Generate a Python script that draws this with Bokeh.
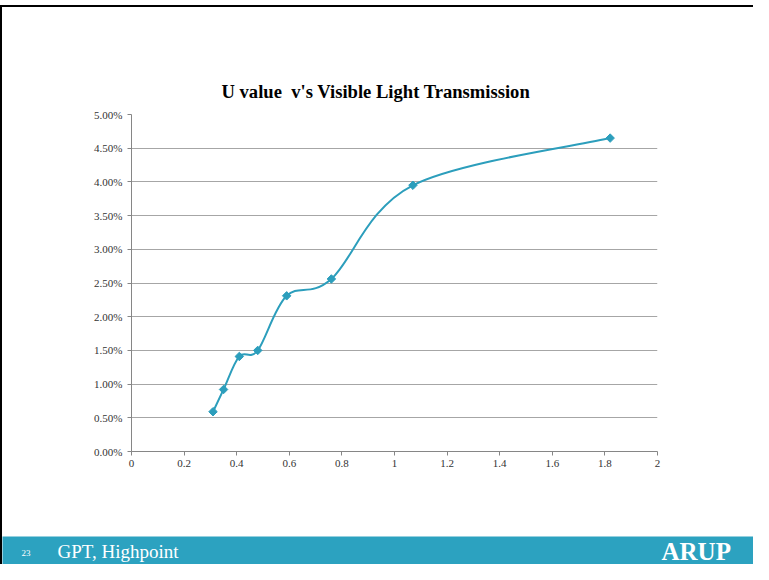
import numpy as np
from bokeh.plotting import figure
from bokeh.layouts import column, row
from bokeh.models import (ColumnDataSource, Range1d, FixedTicker, PrintfTickFormatter,
                          Spacer)
from bokeh.core.properties import value
from bokeh.embed import file_html
from bokeh.resources import INLINE

# ---- data ----
title_text = "U value\u00a0 v's Visible Light Transmission"
u_value = [0.31, 0.35, 0.41, 0.48, 0.59, 0.76, 1.07, 1.82]
vlt_pct = [0.59, 0.92, 1.41, 1.50, 2.31, 2.56, 3.95, 4.65]
x_ticks = [0, 0.2, 0.4, 0.6, 0.8, 1, 1.2, 1.4, 1.6, 1.8, 2]
x_tick_labels = ["0", "0.2", "0.4", "0.6", "0.8", "1", "1.2", "1.4", "1.6", "1.8", "2"]
y_ticks = [0, 0.5, 1, 1.5, 2, 2.5, 3, 3.5, 4, 4.5, 5]
page_number = "23"
footer_text = "GPT, Highpoint"
logo_text = "ARUP"

# ---- styles ----
SERIF = "Liberation Serif"
TEAL = "#2c9ebc"
FOOTER = "#2ca2c0"
GRID = "#a6a6a6"
AXIS = "#868686"
TOTAL_W, TOTAL_H = 753, 564
TOP_GAP = 5
BORDER = 2
INNER_W = TOTAL_W - BORDER
CHART_H = 536 - TOP_GAP - BORDER
FOOT_H = TOTAL_H - TOP_GAP - BORDER - CHART_H

p = figure(width=INNER_W, height=CHART_H, output_backend="svg", toolbar_location=None,
           x_range=Range1d(0, 2), y_range=Range1d(0, 5),
           min_border_left=129, min_border_right=96,
           min_border_top=114 - TOP_GAP - BORDER, min_border_bottom=536 - 451)
p.outline_line_color = None
p.background_fill_color = "white"
p.border_fill_color = "white"

# title
p.title.text = title_text
p.title.text_font = SERIF
p.title.text_font_style = "bold"
p.title.text_font_size = "18.6px"
p.title.text_color = "#000000"
p.title.align = "left"
p.title.offset = 90
p.title.standoff = 25

# axes
p.xaxis.ticker = FixedTicker(ticks=x_ticks)
p.xaxis.major_label_overrides = dict(zip(x_ticks, x_tick_labels))
p.yaxis.ticker = FixedTicker(ticks=y_ticks)
p.yaxis.formatter = PrintfTickFormatter(format="%.2f%%")
for ax in (p.xaxis, p.yaxis):
    ax.axis_line_color = AXIS
    ax.major_tick_line_color = AXIS
    ax.minor_tick_line_color = None
    ax.major_tick_in = 0
    ax.major_tick_out = 4
    ax.major_label_text_font = SERIF
    ax.major_label_text_font_size = "11px"
    ax.major_label_text_color = "#333333"
p.yaxis.major_label_standoff = 5
p.xaxis.major_label_standoff = 4

p.xgrid.grid_line_color = None
p.ygrid.ticker = FixedTicker(ticks=y_ticks)
p.ygrid.grid_line_color = GRID
p.ygrid.grid_line_width = 1

# smooth (Excel-like) curve through the points
xs = np.array(u_value, dtype=float)
ys = np.array(vlt_pct, dtype=float)
n = len(xs)
xp = np.concatenate([[xs[0]], xs, [xs[-1]]])
yp = np.concatenate([[ys[0]], ys, [ys[-1]]])
t = 1.0 / 6.0
seg = ColumnDataSource(dict(
    x0=xs[:-1], y0=ys[:-1], x1=xs[1:], y1=ys[1:],
    cx0=xs[:-1] + (xp[2:n + 1] - xp[0:n - 1]) * t,
    cy0=ys[:-1] + (yp[2:n + 1] - yp[0:n - 1]) * t,
    cx1=xs[1:] - (xp[3:n + 2] - xp[1:n]) * t,
    cy1=ys[1:] - (yp[3:n + 2] - yp[1:n]) * t,
))
p.bezier(x0="x0", y0="y0", x1="x1", y1="y1", cx0="cx0", cy0="cy0",
         cx1="cx1", cy1="cy1", source=seg, line_color=TEAL, line_width=2)

pts = ColumnDataSource(dict(x=u_value, y=vlt_pct))
p.scatter(x="x", y="y", source=pts, marker="square", size=6, angle=np.pi / 4,
          fill_color=TEAL, line_color=TEAL, line_width=1)

# footer band (its own figure, pixel-scaled ranges)
f = figure(width=INNER_W, height=FOOT_H, output_backend="svg", toolbar_location=None,
           x_range=Range1d(0, INNER_W), y_range=Range1d(0, FOOT_H),
           min_border=0, x_axis_type=None, y_axis_type=None)
f.grid.visible = False
f.outline_line_color = None
f.background_fill_color = FOOTER
f.border_fill_color = FOOTER
mid = FOOT_H / 2.0
f.text(x=[19], y=[mid - 2], text=[page_number], text_font=value(SERIF),
       text_font_size="9px", text_color="white", text_baseline="middle")
f.text(x=[55], y=[mid - 1], text=[footer_text], text_font=value(SERIF),
       text_font_size="19px", text_color="white", text_baseline="middle")
f.text(x=[659], y=[mid - 1], text=[logo_text], text_font=value(SERIF),
       text_font_style="bold", text_font_size="25px", text_color="white",
       text_baseline="middle")

top_gap = Spacer(width=TOTAL_W, height=TOP_GAP)
top_bar = Spacer(width=TOTAL_W, height=BORDER, styles={"background-color": "black"})
left_bar = Spacer(width=BORDER, height=CHART_H, styles={"background-color": "black"})
left_bar2 = Spacer(width=BORDER, height=FOOT_H, styles={"background-color": "black"})
layout = column(top_gap, top_bar,
                row(left_bar, p, spacing=0),
                row(left_bar2, row(f, spacing=0), spacing=0),
                spacing=0)

open("out.html", "w").write(file_html(layout, INLINE))
